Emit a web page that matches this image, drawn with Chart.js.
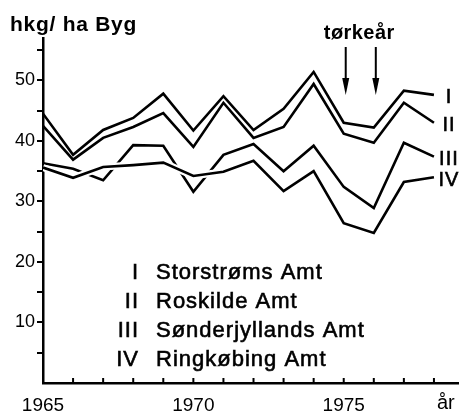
<!DOCTYPE html>
<html>
<head>
<meta charset="utf-8">
<script src="https://cdn.jsdelivr.net/npm/chart.js@4.4.1/dist/chart.umd.min.js"></script>
<style>
    body { margin: 0; background: #fff; }
    canvas { display: block; }
</style>
</head>
<body>
<canvas id="myChart" width="465" height="414"></canvas>
<script>
var years = [1965, 1966, 1967, 1968, 1969, 1970, 1971, 1972, 1973, 1974, 1975, 1976, 1977, 1978];
var storstroms = [44.5, 37.7, 41.8, 43.8, 47.8, 41.7, 47.4, 41.8, 45.3, 51.4, 43.0, 42.2, 48.3, 47.6];
var roskilde = [42.5, 36.9, 40.5, 42.3, 44.6, 39.0, 46.3, 40.5, 42.3, 49.4, 41.2, 39.7, 46.3, 43.0];
var sonderjylland = [36.3, 35.4, 33.5, 39.3, 39.2, 31.6, 37.7, 39.5, 35.0, 39.2, 32.4, 28.9, 39.7, 37.4];
var ringkobing = [35.6, 33.9, 35.7, 36.0, 36.4, 34.2, 34.9, 36.7, 31.7, 35.0, 26.4, 24.8, 33.2, 34.0];
var yearLabels = [1965, 1970, 1975];
var droughtYears = [1975, 1976];
var romanNumerals = ["I", "II", "III", "IV"];
var countyNames = ["Storstrøms Amt", "Roskilde Amt", "Sønderjyllands Amt", "Ringkøbing Amt"];

var FONT = "'Liberation Sans', Arial, sans-serif";

function toPoints(values) {
    return years.map(function (yr, i) {
        return { x: yr, y: values[i] };
    });
}

function lineSet(values, color, width) {
    return {
        data: toPoints(values),
        borderColor: color,
        borderWidth: width,
        borderJoinStyle: "miter",
        pointRadius: 0,
        tension: 0,
        fill: false,
    };
}

// draw text stretched to a given width with letter spacing
function fitText(ctx, text, left, baseline, width) {
    ctx.letterSpacing = "0px";
    var w = ctx.measureText(text).width;
    var ls = (width - w) / text.length;
    ctx.letterSpacing = ls + "px";
    ctx.textAlign = "left";
    ctx.fillText(text, left, baseline);
    ctx.letterSpacing = "0px";
}

var annotations = {
    id: "annotations",
    afterDraw: function (chart) {
        var ctx = chart.ctx;
        var xs = chart.scales.x;
        var ys = chart.scales.y;
        ctx.save();
        ctx.fillStyle = "#000";
        ctx.strokeStyle = "#000";
        ctx.textBaseline = "alphabetic";

        // year ticks pointing up from the x axis
        ctx.lineWidth = 2;
        years.forEach(function (yr) {
            var px = xs.getPixelForValue(yr);
            ctx.beginPath();
            ctx.moveTo(px, ys.bottom);
            ctx.lineTo(px, ys.bottom - 5);
            ctx.stroke();
        });

        // axis title
        ctx.font = "bold 21px " + FONT;
        fitText(ctx, "hkg/ ha Byg", 10, 31, 127);

        // drought years
        ctx.font = "bold 20px " + FONT;
        var midX = (xs.getPixelForValue(droughtYears[0]) + xs.getPixelForValue(droughtYears[1])) / 2;
        fitText(ctx, "tørkeår", midX - 35, 39, 71);
        droughtYears.forEach(function (yr) {
            var px = xs.getPixelForValue(yr) + 2;
            ctx.lineWidth = 2;
            ctx.beginPath();
            ctx.moveTo(px, 47);
            ctx.lineTo(px, 82);
            ctx.stroke();
            ctx.beginPath();
            ctx.moveTo(px - 3.5, 78);
            ctx.lineTo(px + 3.5, 78);
            ctx.lineTo(px, 95);
            ctx.closePath();
            ctx.fill();
        });

        // "år" at end of x axis
        ctx.font = "20px " + FONT;
        ctx.textAlign = "left";
        ctx.fillText("år", 437, 409);

        // numerals at the line ends
        var series = [storstroms, roskilde, sonderjylland, ringkobing];
        ctx.font = "20px " + FONT;
        ctx.lineWidth = 0.6;
        series.forEach(function (vals, i) {
            var last = years.length - 1;
            var px = xs.getPixelForValue(years[last]) + 15;
            var py = ys.getPixelForValue(vals[last]) + 3;
            ctx.textAlign = "center";
            ctx.textBaseline = "middle";
            ctx.letterSpacing = "1px";
            ctx.fillText(romanNumerals[i], px, py);
            ctx.strokeText(romanNumerals[i], px, py);
        });

        // key
        ctx.font = "22px " + FONT;
        ctx.textBaseline = "alphabetic";
        romanNumerals.forEach(function (num, i) {
            var base = 279 + i * 29;
            ctx.letterSpacing = "1px";
            ctx.textAlign = "right";
            ctx.fillText(num, 139, base);
            ctx.strokeText(num, 139, base);
            ctx.textAlign = "left";
            ctx.fillText(countyNames[i], 156, base);
            ctx.strokeText(countyNames[i], 156, base);
        });
        ctx.restore();
    },
};

function drawChart() {
    var ctx = document.getElementById("myChart").getContext("2d");
    var halo = lineSet(ringkobing, "#fff", 7);
    new Chart(ctx, {
        type: "line",
        data: {
            datasets: [
                lineSet(storstroms, "#000", 2.6),
                lineSet(roskilde, "#000", 2.6),
                lineSet(ringkobing, "#000", 2.6),
                halo,
                lineSet(sonderjylland, "#000", 2.6),
            ],
        },
        options: {
            responsive: false,
            animation: false,
            events: [],
            layout: {
                padding: { top: 38, right: 7, left: 0, bottom: 0 },
            },
            plugins: {
                legend: { display: false },
                tooltip: { enabled: false },
            },
            scales: {
                x: {
                    type: "linear",
                    min: 1965,
                    max: 1978.8,
                    afterFit: function (scale) {
                        scale.height = 31;
                    },
                    grid: { display: false, drawTicks: false },
                    border: { display: true, color: "#000", width: 2.5 },
                    ticks: {
                        stepSize: 1,
                        includeBounds: false,
                        autoSkip: false,
                        maxRotation: 0,
                        padding: 11,
                        color: "#000",
                        font: { family: FONT, size: 19 },
                        callback: function (v) {
                            return yearLabels.indexOf(v) >= 0 ? String(v) : "";
                        },
                    },
                },
                y: {
                    type: "linear",
                    min: 0,
                    max: 57,
                    afterFit: function (scale) {
                        scale.width = 43;
                    },
                    grid: {
                        drawOnChartArea: false,
                        drawTicks: true,
                        tickLength: 6,
                        lineWidth: 2,
                        color: function (c) {
                            return c.tick && c.tick.value === 0 ? "rgba(0,0,0,0)" : "#000";
                        },
                    },
                    border: { display: true, color: "#000", width: 2.5 },
                    ticks: {
                        stepSize: 5,
                        includeBounds: false,
                        autoSkip: false,
                        padding: 2,
                        color: "#000",
                        font: { family: FONT, size: 18 },
                        callback: function (v) {
                            return v > 0 && v % 10 === 0 ? String(v) : "";
                        },
                    },
                },
            },
        },
        plugins: [annotations],
    });
}

window.onload = drawChart;
</script>
</body>
</html>
